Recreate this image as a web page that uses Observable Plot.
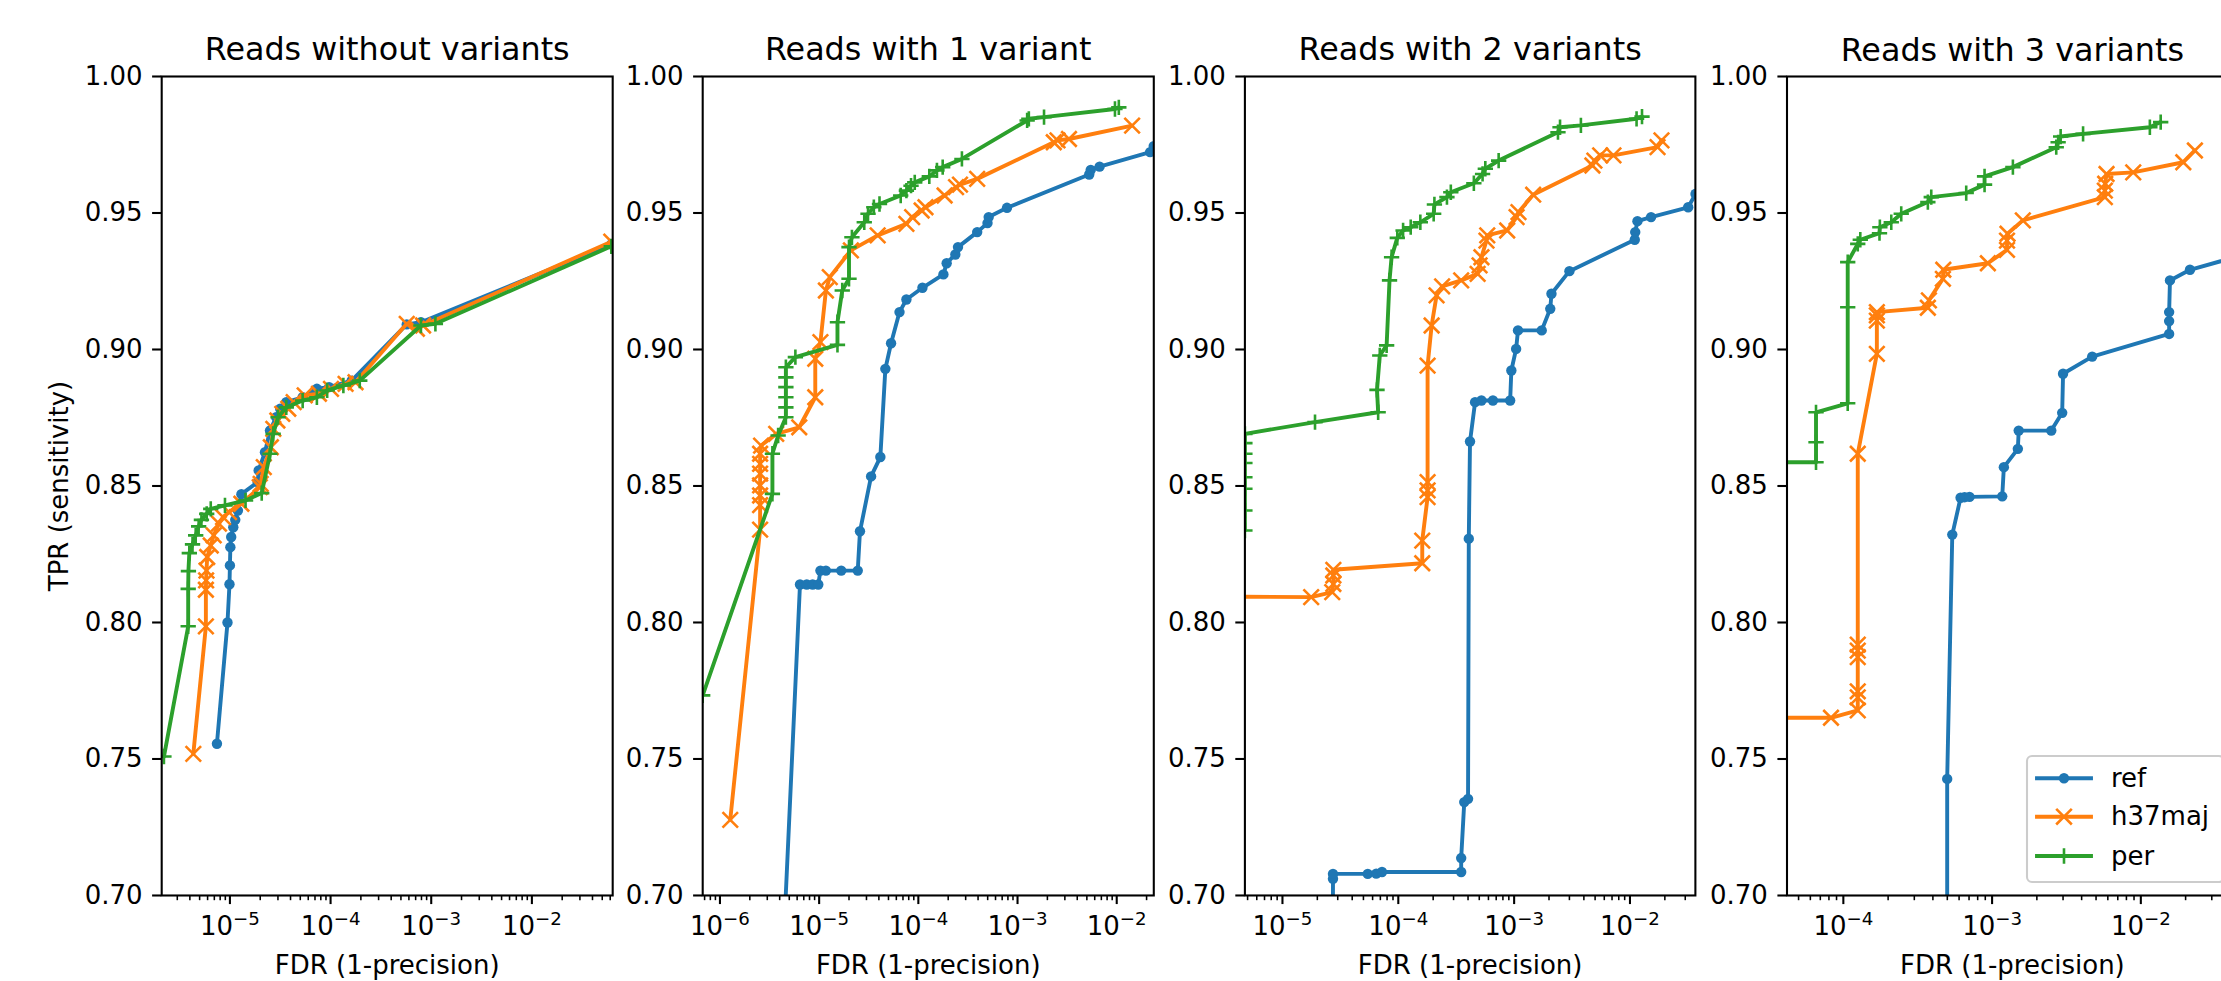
<!DOCTYPE html>
<html>
<head>
<meta charset="utf-8">
<script src="https://cdn.jsdelivr.net/npm/d3@7"></script>
<script src="https://cdn.jsdelivr.net/npm/@observablehq/plot@0.6"></script>
<style>
html, body { margin: 0; padding: 0; background: #fff; overflow: hidden; }
#wrap { position: relative; width: 2221px; height: 981px; overflow: hidden; background: #fff; font-family: "DejaVu Sans", sans-serif; }
.panel { position: absolute; top: 0; }
</style>
</head>
<body>
<div id="wrap"></div>
<script>
// ---------------- data ----------------
const seriesNames = ["ref", "h37maj", "per"];
const seriesColors = ["#1f77b4", "#ff7f0e", "#2ca02c"];
const panelTitles = ["Reads without variants", "Reads with 1 variant", "Reads with 2 variants", "Reads with 3 variants"];
const fdrMin = [2.10e-6, 6.70e-7, 4.74e-6, 4.18e-5];
const fdrMax = [0.0635, 0.02364, 0.0367, 0.0448];
const tprTicks = [0.70, 0.75, 0.80, 0.85, 0.90, 0.95, 1.00];
const xLabel = "FDR (1-precision)";
const yLabel = "TPR (sensitivity)";

// [FDR, TPR]
const p0_ref = [[7.43e-6,0.7556],[9.46e-6,0.800],[9.9e-6,0.814],[1.0e-5,0.8209],[1.01e-5,0.8276],[1.03e-5,0.8313],[1.08e-5,0.8349],[1.13e-5,0.8376],[1.2e-5,0.841],[1.30e-5,0.847],[1.89e-5,0.8514],[1.93e-5,0.8557],[2.23e-5,0.8624],[2.5e-5,0.8703],[2.88e-5,0.8752],[3.16e-5,0.8783],[3.63e-5,0.8807],[5.28e-5,0.8825],[7.31e-5,0.8856],[9.67e-5,0.8862],[1.62e-4,0.8886],[5.71e-4,0.9092],[7.9e-4,0.910],[0.0615,0.9385]];
const p0_h37maj = [[4.33e-6,0.7519],[5.77e-6,0.7986],[5.77e-6,0.812],[5.8e-6,0.8154],[5.85e-6,0.819],[5.95e-6,0.824],[6.45e-6,0.8282],[6.9e-6,0.8319],[7.78e-6,0.8362],[8.55e-6,0.8386],[9.8e-6,0.8404],[1.3e-5,0.8435],[1.98e-5,0.8496],[2.02e-5,0.8508],[2.17e-5,0.8569],[2.55e-5,0.8642],[2.7e-5,0.8709],[2.96e-5,0.874],[3.31e-5,0.8764],[3.8e-5,0.8783],[4.3e-5,0.8807],[5.53e-5,0.8832],[7.66e-5,0.8838],[1.01e-4,0.8856],[1.41e-4,0.8874],[1.77e-4,0.888],[5.71e-4,0.9094],[7.2e-4,0.9076],[8.3e-4,0.9088],[0.0615,0.9395]];
const p0_per = [[2.21e-6,0.7509],[3.85e-6,0.7986],[3.85e-6,0.8123],[3.87e-6,0.8188],[3.95e-6,0.8254],[4.25e-6,0.8286],[4.57e-6,0.8319],[4.89e-6,0.8352],[5.21e-6,0.8376],[5.88e-6,0.8398],[6.45e-6,0.8416],[8.93e-6,0.8429],[1.43e-5,0.8447],[2.07e-5,0.8474],[2.5e-5,0.8618],[2.69e-5,0.8691],[3.01e-5,0.8752],[3.63e-5,0.8788],[5.28e-5,0.8813],[7.31e-5,0.8825],[9.25e-5,0.885],[1.34e-4,0.8868],[1.95e-4,0.8886],[7.9e-4,0.9088],[1.1e-3,0.9094],[0.0615,0.9378]];

const p1_ref = [[4.1e-6,0.66],[6.41e-6,0.8139],[7.5e-6,0.8139],[8.6e-6,0.8139],[9.8e-6,0.8139],[1.03e-5,0.819],[1.17e-5,0.819],[1.67e-5,0.819],[2.45e-5,0.819],[2.58e-5,0.8334],[3.34e-5,0.8535],[4.14e-5,0.8606],[4.65e-5,0.8929],[5.31e-5,0.9023],[6.46e-5,0.9137],[7.58e-5,0.9183],[1.1e-4,0.9226],[1.79e-4,0.9275],[1.93e-4,0.9316],[2.36e-4,0.9348],[2.51e-4,0.9375],[3.92e-4,0.943],[4.98e-4,0.9463],[5.12e-4,0.9485],[7.83e-4,0.9519],[5.28e-3,0.9641],[5.47e-3,0.9658],[6.72e-3,0.967],[0.0217,0.9723],[0.0236,0.9745]];
const p1_h37maj = [[1.27e-6,0.7277],[2.54e-6,0.834],[2.54e-6,0.843],[2.54e-6,0.8465],[2.54e-6,0.8502],[2.54e-6,0.8545],[2.54e-6,0.8581],[2.54e-6,0.8618],[2.6e-6,0.8648],[3.69e-6,0.8691],[6.3e-6,0.8715],[9.14e-6,0.8825],[9.14e-6,0.8966],[1.03e-5,0.9027],[1.17e-5,0.9216],[1.28e-5,0.9265],[2.09e-5,0.9363],[3.89e-5,0.9418],[7.58e-5,0.946],[8.66e-5,0.9485],[1.08e-4,0.9509],[1.18e-4,0.9521],[1.84e-4,0.9564],[2.4e-4,0.9595],[2.63e-4,0.9604],[3.92e-4,0.9625],[2.32e-3,0.9759],[2.53e-3,0.9766],[3.3e-3,0.9771],[0.0143,0.982]];
const p1_per = [[6.7e-7,0.7733],[3.38e-6,0.8471],[3.38e-6,0.8618],[3.86e-6,0.8685],[4.62e-6,0.8752],[4.62e-6,0.8788],[4.62e-6,0.8825],[4.62e-6,0.8862],[4.62e-6,0.8898],[4.62e-6,0.8935],[5.76e-6,0.8972],[1.53e-5,0.9017],[1.53e-5,0.91],[1.71e-5,0.9216],[2.0e-5,0.9259],[2.0e-5,0.9375],[2.14e-5,0.9411],[2.85e-5,0.9466],[3.11e-5,0.9497],[3.56e-5,0.9521],[4.06e-5,0.9533],[6.64e-5,0.9564],[7.58e-5,0.9582],[8.44e-5,0.96],[9.2e-5,0.9612],[1.29e-4,0.9634],[1.54e-4,0.9656],[1.76e-4,0.9668],[2.75e-4,0.9698],[1.25e-3,0.9839],[1.3e-3,0.9845],[1.85e-3,0.9851],[9.6e-3,0.9881],[0.0105,0.9887]];

const p2_ref = [[2.7e-5,0.60],[2.73e-5,0.7061],[2.73e-5,0.7079],[5.45e-5,0.7079],[6.45e-5,0.708],[7.23e-5,0.7086],[3.49e-4,0.7086],[3.49e-4,0.7137],[3.71e-4,0.7342],[4.0e-4,0.7354],[4.06e-4,0.8307],[4.16e-4,0.8663],[4.6e-4,0.8807],[5.22e-4,0.8813],[6.56e-4,0.8813],[9.24e-4,0.8813],[9.46e-4,0.8923],[1.04e-3,0.9002],[1.08e-3,0.907],[1.73e-3,0.907],[2.05e-3,0.9149],[2.1e-3,0.9204],[3.0e-3,0.9287],[0.011,0.9402],[0.0111,0.943],[0.0116,0.947],[0.0152,0.9485],[0.0318,0.9521],[0.0368,0.957]];
const p2_h37maj = [[3.0e-6,0.8095],[1.77e-5,0.8093],[2.69e-5,0.8111],[2.75e-5,0.8141],[2.75e-5,0.8172],[2.75e-5,0.8193],[1.61e-4,0.8217],[1.61e-4,0.83],[1.79e-4,0.8459],[1.79e-4,0.8484],[1.79e-4,0.8514],[1.79e-4,0.8941],[1.94e-4,0.9088],[2.14e-4,0.9198],[2.39e-4,0.9231],[3.49e-4,0.9253],[4.84e-4,0.9277],[5.03e-4,0.9308],[5.22e-4,0.9338],[5.77e-4,0.9399],[5.86e-4,0.9418],[8.71e-4,0.9436],[1.05e-3,0.9485],[1.09e-3,0.9503],[1.46e-3,0.9567],[4.74e-3,0.9674],[4.93e-3,0.9692],[5.53e-3,0.9711],[7.2e-3,0.9711],[0.0173,0.9741],[0.0187,0.9766]];
const p2_per = [[4.74e-6,0.8337],[4.74e-6,0.841],[4.74e-6,0.849],[4.74e-6,0.8532],[4.74e-6,0.8584],[4.74e-6,0.8618],[4.74e-6,0.8657],[4.74e-6,0.8691],[1.91e-5,0.8734],[6.7e-5,0.877],[6.55e-5,0.8852],[6.92e-5,0.8978],[7.93e-5,0.9015],[8.4e-5,0.9253],[8.75e-5,0.9338],[9.8e-5,0.9409],[1.1e-4,0.9436],[1.28e-4,0.9448],[1.55e-4,0.9466],[2.02e-4,0.9497],[2.05e-4,0.9531],[2.63e-4,0.9558],[2.84e-4,0.9576],[4.49e-4,0.9609],[5.34e-4,0.9643],[5.64e-4,0.9662],[7.35e-4,0.9692],[2.39e-3,0.9796],[2.49e-3,0.9814],[3.77e-3,0.9821],[0.0114,0.9845],[0.0127,0.9853]];

const p3_ref = [[4.99e-4,0.60],[4.99e-4,0.7427],[5.4e-4,0.8322],[6.14e-4,0.8457],[6.53e-4,0.8459],[7.05e-4,0.846],[1.17e-3,0.8462],[1.2e-3,0.8569],[1.49e-3,0.8636],[1.51e-3,0.8703],[2.5e-3,0.8703],[2.96e-3,0.8768],[3.0e-3,0.8911],[4.71e-3,0.8974],[0.0155,0.9057],[0.0155,0.9104],[0.0155,0.9137],[0.0157,0.9253],[0.0214,0.9292],[0.05,0.9348]];
const p3_h37maj = [[2.0e-5,0.7651],[8.26e-5,0.7651],[1.25e-4,0.7678],[1.25e-4,0.7726],[1.25e-4,0.7748],[1.25e-4,0.7873],[1.25e-4,0.7897],[1.25e-4,0.7919],[1.25e-4,0.8618],[1.68e-4,0.8984],[1.68e-4,0.9106],[1.68e-4,0.9125],[1.68e-4,0.9137],[3.7e-4,0.9153],[3.76e-4,0.918],[4.67e-4,0.9259],[4.7e-4,0.9292],[9.37e-4,0.9316],[1.26e-3,0.9365],[1.26e-3,0.9399],[1.27e-3,0.9424],[1.61e-3,0.9473],[5.73e-3,0.9558],[5.73e-3,0.9582],[5.76e-3,0.9607],[5.88e-3,0.9643],[8.89e-3,0.9649],[0.0193,0.9686],[0.0231,0.9729]];
const p3_per = [[2.0e-5,0.8587],[6.55e-5,0.8587],[6.55e-5,0.866],[6.55e-5,0.877],[1.07e-4,0.8803],[1.07e-4,0.9155],[1.07e-4,0.932],[1.25e-4,0.9387],[1.3e-4,0.9402],[1.75e-4,0.9426],[1.76e-4,0.9448],[2.1e-4,0.9466],[2.45e-4,0.9497],[3.7e-4,0.954],[3.9e-4,0.9558],[6.7e-4,0.9573],[8.9e-4,0.9604],[8.9e-4,0.9634],[1.38e-3,0.9668],[2.7e-3,0.9741],[2.78e-3,0.9759],[2.89e-3,0.978],[4.09e-3,0.979],[0.0115,0.9814],[0.0136,0.9833]];

const panelSeries = [
  [p0_ref, p0_h37maj, p0_per],
  [p1_ref, p1_h37maj, p1_per],
  [p2_ref, p2_h37maj, p2_per],
  [p3_ref, p3_h37maj, p3_per]
];

// ---------------- layout ----------------
const H = 981, MT = 76, MB = 86;
const layout = [
  {left: 0,      width: 657.4, ml: 161.2, mr: 45.2},
  {left: 657.4,  width: 541.7, ml: 45.2,  mr: 45.4},
  {left: 1199.1, width: 541.4, ml: 45.4,  mr: 45.5},
  {left: 1740.5, width: 549.5, ml: 45.5,  mr: 53.3}
];
const FONT = "DejaVu Sans";
const FS = 26;

function decadeTicks(lo, hi) {
  const major = [], minor = [];
  for (let e = Math.floor(Math.log10(lo)); e <= Math.ceil(Math.log10(hi)); e++) {
    for (let m = 1; m <= 9; m++) {
      const v = m * Math.pow(10, e);
      if (v < lo * 0.9999 || v > hi * 1.0001) continue;
      (m === 1 ? major : minor).push(v);
    }
  }
  return {major, minor};
}

function markersFor(k, pts, color) {
  const base = {x: d => d[0], y: d => d[1], clip: true};
  if (k === 0) return Plot.dot(pts, {...base, r: 5.2, fill: color, stroke: "none"});
  if (k === 1) return Plot.dot(pts, {...base, symbol: "times", r: 7.1, stroke: color, strokeWidth: 2.6, fill: "none"});
  return Plot.dot(pts, {...base, symbol: "plus", r: 5.0, stroke: color, strokeWidth: 2.6, fill: "none"});
}

const wrap = document.getElementById("wrap");

panelSeries.forEach((series, i) => {
  const L = layout[i];
  const {major, minor} = decadeTicks(fdrMin[i], fdrMax[i]);
  const marks = [];
  series.forEach((pts, k) => {
    marks.push(Plot.line(pts, {x: d => d[0], y: d => d[1], stroke: seriesColors[k], strokeWidth: 3.9, strokeLinejoin: "round", clip: true}));
    marks.push(markersFor(k, pts, seriesColors[k]));
  });
  marks.push(Plot.axisY({ticks: tprTicks, tickFormat: d3.format(".2f"), tickSize: 9.1, tickPadding: 10, strokeWidth: 2.08, fontSize: FS}));
  marks.push(Plot.axisX({ticks: minor, tickSize: 5.2, tickFormat: () => "", strokeWidth: 1.56}));
  marks.push(Plot.axisX({ticks: major, tickSize: 9.1, tickPadding: 12.4, strokeWidth: 2.08, fontSize: FS,
    tickFormat: d => String(Math.round(Math.log10(d)))}));
  marks.push(Plot.frame({stroke: "black", strokeWidth: 2.08}));
  marks.push(Plot.text([panelTitles[i]], {text: d => d, frameAnchor: "top", dy: -16, lineAnchor: "bottom", textAnchor: "middle", fontSize: 31.8, fill: "black"}));
  marks.push(Plot.text([xLabel], {text: d => d, frameAnchor: "bottom", dy: 78.3, lineAnchor: "bottom", textAnchor: "middle", fontSize: FS, fill: "black"}));
  if (i === 0) {
    marks.push(Plot.text([yLabel], {text: d => d, frameAnchor: "left", dx: 67.7 - L.ml, rotate: -90, lineAnchor: "bottom", textAnchor: "middle", fontSize: FS, fill: "black"}));
  }
  const svg = Plot.plot({
    width: L.width, height: H,
    marginLeft: L.ml, marginRight: L.mr, marginTop: MT, marginBottom: MB,
    x: {type: "log", domain: [fdrMin[i], fdrMax[i]]},
    y: {domain: [0.70, 1.00]},
    style: {fontFamily: FONT, fontSize: FS + "px", background: "transparent", overflow: "visible", maxWidth: "none", color: "black"},
    marks
  });
  // superscript exponents: 10^-k
  svg.querySelectorAll('g[aria-label="x-axis tick label"] text').forEach(t => {
    const e = t.textContent.trim();
    if (!e) return;
    const n = Math.abs(parseInt(e, 10));
    t.textContent = "";
    const ns = "http://www.w3.org/2000/svg";
    const a = document.createElementNS(ns, "tspan"); a.textContent = "10"; t.appendChild(a);
    const b = document.createElementNS(ns, "tspan"); b.textContent = "\u2212" + n;
    b.setAttribute("dy", "-10"); b.setAttribute("font-size", "18.2"); t.appendChild(b);
  });
  const div = document.createElement("div");
  div.className = "panel";
  div.style.left = L.left + "px";
  div.style.width = L.width + "px";
  div.style.height = H + "px";
  div.appendChild(svg);
  wrap.appendChild(div);
});

// ---------------- legend (in panel 4, lower right) ----------------
const leg = d3.select(wrap).append("svg")
  .attr("width", 2221).attr("height", 981)
  .style("position", "absolute").style("left", "0px").style("top", "0px")
  .style("font-family", FONT);
leg.append("rect").attr("x", 2027).attr("y", 756).attr("width", 197).attr("height", 126).attr("rx", 5)
  .attr("fill", "white").attr("fill-opacity", 0.8).attr("stroke", "#cccccc").attr("stroke-width", 2.08);
const rowY = [778.3, 816.7, 856];
seriesNames.forEach((name, k) => {
  const g = leg.append("g");
  const y = rowY[k], c = seriesColors[k], cx = 2064;
  g.append("line").attr("x1", 2037).attr("x2", 2091).attr("y1", y).attr("y2", y).attr("stroke", c).attr("stroke-width", 3.9).attr("stroke-linecap", "square");
  if (k === 0) g.append("circle").attr("cx", cx).attr("cy", y).attr("r", 5.2).attr("fill", c);
  if (k === 1) { const h = 7.8; g.append("path").attr("d", `M${cx-h},${y-h}L${cx+h},${y+h}M${cx-h},${y+h}L${cx+h},${y-h}`).attr("stroke", c).attr("stroke-width", 2.6).attr("fill", "none"); }
  if (k === 2) { const h = 7.8; g.append("path").attr("d", `M${cx-h},${y}L${cx+h},${y}M${cx},${y-h}L${cx},${y+h}`).attr("stroke", c).attr("stroke-width", 2.6).attr("fill", "none"); }
  g.append("text").attr("x", 2111).attr("y", y + 8.6).attr("font-size", FS).attr("fill", "black").text(name);
});
</script>
</body>
</html>
